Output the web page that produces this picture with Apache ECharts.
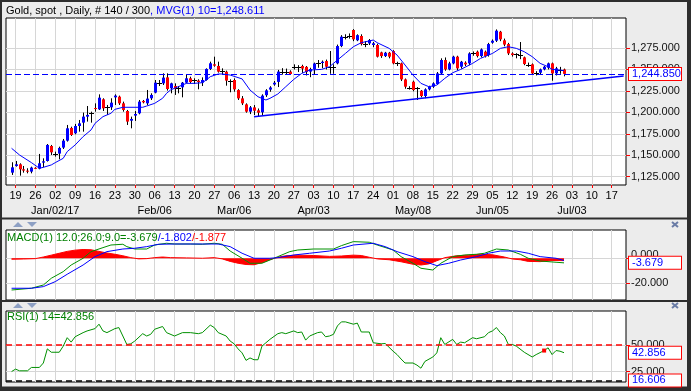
<!DOCTYPE html>
<html><head><meta charset="utf-8">
<script src="https://cdn.jsdelivr.net/npm/echarts@6/dist/echarts.min.js"></script>
<style>html,body{margin:0;padding:0;background:#ececec}#c{width:691px;height:391px}</style>
</head><body><div id="c"></div>
<script>
// ---------- data ----------
const axisStart = '2016-12-15';
const axisEnd = '2017-07-20';
const firstBarDate = '2016-12-16';
const opens = [1129.7,1137.5,1139.4,1133.6,1132.0,1130.9,1135.3,1134.4,1141.4,1143.3,1160.8,1151.2,1151.9,1158.9,1167.0,1181.8,1175.6,1184.1,1188.0,1195.0,1199.0,1205.0,1203.5,1215.2,1205.7,1205.9,1217.5,1218.3,1210.5,1201.6,1190.3,1196.2,1198.9,1213.3,1210.5,1216.4,1223.0,1234.5,1233.8,1240.8,1228.0,1230.7,1227.9,1229.2,1234.6,1239.7,1237.3,1237.0,1234.6,1237.7,1250.6,1256.0,1254.1,1248.2,1247.4,1236.9,1237.7,1226.0,1216.3,1209.3,1200.8,1205.8,1202.3,1200.0,1220.0,1226.5,1232.5,1235.5,1247.0,1247.0,1247.5,1253.0,1253.0,1254.0,1253.0,1247.5,1250.5,1257.0,1257.5,1259.8,1253.0,1253.0,1257.1,1277.3,1288.0,1289.0,1296.0,1284.0,1289.0,1280.0,1280.4,1278.5,1278.5,1269.9,1265.6,1269.5,1271.5,1257.0,1257.1,1238.4,1228.5,1235.7,1228.0,1225.2,1219.0,1226.8,1229.9,1233.0,1245.4,1261.0,1250.0,1257.1,1264.9,1253.2,1257.9,1257.1,1269.5,1270.7,1265.6,1270.7,1266.8,1281.2,1283.5,1294.0,1284.0,1279.6,1268.7,1268.0,1267.0,1264.1,1255.0,1256.0,1246.0,1246.2,1250.1,1252.0,1257.1,1245.4,1249.3,1250.0];
const highs = [1141.8,1143.3,1140.6,1137.5,1134.8,1136.7,1136.0,1151.5,1146.4,1163.1,1162.0,1154.2,1160.0,1169.0,1185.3,1183.3,1186.5,1191.1,1199.7,1207.4,1200.8,1210.5,1221.0,1216.4,1208.6,1216.4,1221.0,1219.5,1212.5,1202.8,1195.0,1201.6,1214.4,1214.4,1226.1,1222.2,1237.7,1237.7,1245.5,1245.5,1234.6,1233.8,1230.7,1235.4,1244.7,1241.6,1239.7,1238.5,1240.8,1251.3,1259.1,1264.9,1259.1,1251.3,1248.6,1238.5,1239.6,1227.0,1219.0,1210.5,1207.4,1208.5,1204.5,1221.0,1227.0,1230.5,1236.5,1249.5,1251.5,1251.0,1249.0,1256.0,1255.0,1255.5,1254.0,1252.0,1258.0,1261.0,1260.5,1261.5,1271.5,1256.0,1279.0,1290.0,1291.0,1292.0,1297.0,1291.0,1291.0,1283.0,1285.5,1282.0,1280.0,1270.7,1270.5,1270.5,1272.5,1259.0,1258.0,1239.5,1230.5,1237.0,1229.5,1226.0,1228.0,1231.0,1235.0,1247.0,1263.0,1264.0,1259.0,1266.0,1266.0,1260.0,1259.5,1270.0,1271.0,1272.0,1274.5,1272.0,1281.0,1285.0,1296.7,1295.0,1286.0,1281.0,1270.0,1269.0,1282.0,1265.0,1258.0,1257.0,1248.0,1251.0,1254.0,1258.0,1258.0,1253.0,1253.0,1251.0];
const lows = [1127.0,1136.7,1126.2,1129.7,1128.9,1128.9,1134.0,1133.6,1135.9,1142.6,1150.3,1148.4,1145.3,1157.3,1165.9,1172.5,1174.4,1177.5,1177.5,1189.2,1188.0,1200.8,1202.8,1201.6,1196.9,1202.8,1208.6,1208.6,1200.8,1185.3,1181.4,1190.0,1197.7,1210.5,1208.6,1214.4,1222.2,1230.7,1231.9,1225.3,1222.2,1220.3,1222.2,1217.5,1233.8,1233.8,1233.1,1226.9,1230.7,1237.0,1249.4,1253.2,1246.3,1244.7,1231.1,1223.4,1224.1,1214.4,1208.5,1199.6,1198.0,1196.9,1195.0,1196.5,1218.0,1224.0,1231.0,1229.5,1244.0,1244.0,1244.0,1250.0,1247.0,1246.0,1243.0,1241.0,1244.0,1252.0,1251.5,1250.0,1245.0,1245.0,1256.0,1276.0,1285.0,1286.0,1283.0,1283.0,1278.0,1276.0,1278.5,1276.0,1264.0,1263.5,1264.5,1263.0,1256.0,1254.0,1236.5,1227.5,1226.5,1224.5,1214.4,1217.5,1216.5,1225.5,1228.5,1232.0,1244.0,1248.5,1249.0,1256.0,1249.0,1251.0,1254.0,1255.0,1266.0,1264.0,1264.0,1264.0,1265.0,1280.0,1282.0,1283.0,1277.0,1266.8,1265.0,1263.0,1262.0,1255.0,1253.0,1244.0,1243.0,1244.0,1249.0,1250.0,1236.9,1243.0,1245.0,1242.0];
const closes = [1135.9,1139.4,1133.6,1132.1,1131.5,1135.6,1135.0,1140.6,1142.9,1162.0,1153.4,1151.2,1158.5,1167.0,1181.4,1173.6,1184.1,1187.2,1195.0,1197.0,1199.0,1204.3,1217.1,1204.7,1205.7,1211.3,1219.5,1210.5,1202.8,1189.2,1192.3,1198.1,1212.5,1211.7,1216.0,1220.3,1234.6,1234.5,1240.5,1227.2,1233.8,1227.6,1227.9,1234.6,1239.7,1235.4,1237.3,1235.4,1237.7,1250.6,1257.2,1254.4,1247.4,1248.2,1237.0,1236.9,1226.8,1216.3,1210.5,1200.8,1205.8,1201.9,1199.6,1219.5,1225.6,1229.0,1234.5,1247.5,1247.0,1247.0,1244.7,1253.0,1253.0,1251.0,1247.0,1250.5,1257.0,1257.0,1259.0,1253.2,1253.0,1253.0,1277.3,1288.2,1288.0,1289.0,1285.1,1290.0,1279.6,1280.0,1284.3,1280.5,1264.9,1265.6,1269.5,1264.9,1257.1,1257.0,1238.4,1229.9,1228.5,1226.0,1228.0,1219.0,1226.8,1229.9,1233.8,1245.4,1261.0,1250.0,1257.1,1264.9,1251.3,1259.0,1255.9,1268.7,1269.5,1265.6,1273.4,1265.6,1279.6,1283.5,1295.2,1285.1,1279.0,1268.7,1266.8,1268.0,1267.0,1256.3,1255.0,1245.4,1246.0,1250.1,1253.2,1257.1,1245.4,1251.3,1249.3,1244.85];
// [bar number, value] readings of the indicator lines
const maPoints = [[0,1158.1],[2,1150.3],[5,1141.4],[7,1134.8],[8,1135.9],[10,1138.7],[11,1141.4],[13,1146.4],[14,1154.2],[16,1162.0],[18,1171.7],[20,1179.5],[21,1187.2],[23,1195.0],[25,1198.9],[26,1203.5],[28,1205.9],[33,1205.9],[34,1207.4],[36,1210.5],[38,1216.4],[39,1222.2],[40,1226.1],[42,1230.0],[44,1233.8],[46,1233.8],[48,1234.6],[49,1237.7],[50,1241.6],[52,1244.7],[53,1244.7],[55,1243.5],[58,1239.0],[60,1226.0],[62,1218.2],[64,1214.4],[65,1216.3],[67,1221.4],[69,1229.9],[71,1238.4],[73,1245.4],[75,1249.3],[78,1250.1],[80,1253.2],[82,1261.0],[84,1268.7],[86,1276.5],[88,1281.2],[91,1284.3],[92,1281.2],[95,1274.6],[97,1266.8],[99,1255.2],[101,1243.5],[103,1233.8],[105,1229.9],[107,1231.8],[109,1239.6],[111,1246.2],[113,1250.0],[116,1257.1],[118,1262.9],[121,1268.7],[123,1274.6],[125,1276.5],[127,1274.6],[129,1270.7],[131,1264.9],[133,1257.1],[135,1253.2],[136,1250.1],[138,1249.3],[139,1248.611]];
const macdPoints = [[0,-25.4],[5,-24.0],[8,-21.4],[10,-16.0],[13,-10.7],[15,-5.4],[18,0],[20,5.3],[23,8.5],[25,10.6],[28,11.2],[29,9.3],[31,7.4],[34,7.4],[36,10.6],[39,12.0],[41,11.4],[45,11.4],[48,11.2],[51,12.0],[53,11.2],[55,5.8],[58,0],[60,-4.0],[63,-4.0],[65,-1.4],[67,1.3],[70,5.3],[72,6.6],[76,7.4],[81,7.4],[83,10.1],[86,13.3],[90,12.8],[92,10.6],[96,6.6],[98,1.3],[101,-4.0],[103,-8.0],[106,-9.4],[108,-4.0],[111,1.3],[114,2.6],[117,3.2],[119,4.0],[122,7.4],[125,6.6],[128,3.2],[130,0],[133,-2.2],[137,-3.2],[139,-3.679]];
const signalPoints = [[0,-24.0],[5,-24.0],[8,-22.7],[11,-18.7],[14,-12.8],[18,-5.4],[21,1.3],[24,5.3],[28,7.4],[31,8.0],[34,9.3],[37,11.2],[41,11.4],[48,11.4],[52,11.4],[55,9.3],[58,4.0],[61,0],[65,0],[67,0.5],[71,2.6],[75,4.0],[80,5.8],[83,8.0],[86,10.6],[91,12.0],[94,9.3],[97,5.3],[101,1.3],[104,-2.7],[107,-5.9],[110,-4.0],[113,-1.4],[117,1.3],[120,4.0],[123,5.8],[127,5.8],[130,4.0],[133,1.3],[137,0],[139,-1.802]];
const histPoints = [[0,-0.8],[3,-0.6],[6,-0.3],[8,1.0],[10,2.5],[12,4.0],[14,5.5],[16,6.5],[18,7.0],[20,6.8],[22,5.5],[24,4.2],[26,3.2],[28,2.0],[30,0.5],[32,-0.5],[34,-0.3],[36,0.5],[38,1.0],[40,0.5],[44,0.3],[48,0.0],[51,0.5],[53,-0.5],[55,-2.5],[57,-4.0],[59,-5.0],[61,-5.2],[63,-3.5],[65,-1.2],[67,0.8],[69,2.0],[72,2.5],[76,2.2],[80,1.5],[83,1.8],[86,2.5],[88,2.2],[90,0.8],[92,-0.5],[95,-1.2],[98,-2.8],[101,-4.8],[103,-5.4],[105,-4.5],[107,-2.0],[109,0.5],[112,2.0],[115,2.5],[118,3.2],[121,2.8],[124,1.0],[126,-0.6],[128,-1.2],[130,-2.5],[133,-2.7],[136,-1.8],[139,-1.877]];
const rsiPoints = [[0,25.0],[1,27.3],[2,25.7],[4,25.7],[5,28.9],[7,28.9],[8,33.1],[9,46.5],[10,43.3],[12,43.3],[13,49.1],[14,57.1],[15,52.9],[16,58.0],[18,61.9],[19,63.5],[21,65.7],[22,69.9],[23,63.5],[24,61.9],[26,65.7],[27,66.7],[28,58.7],[29,50.7],[30,51.3],[31,53.9],[33,60.9],[34,58.7],[35,60.3],[36,65.1],[38,67.7],[39,61.9],[41,58.7],[43,61.9],[45,61.9],[47,60.9],[48,61.9],[50,69.0],[51,66.7],[52,61.9],[54,58.7],[55,53.9],[56,51.3],[57,46.5],[58,42.7],[59,35.6],[60,37.9],[61,36.2],[62,36.2],[63,49.1],[64,52.3],[65,55.5],[67,60.9],[68,61.9],[69,60.9],[71,63.5],[72,61.9],[73,62.5],[74,54.8],[75,58.7],[77,61.9],[78,62.5],[79,58.0],[80,58.7],[81,60.3],[82,68.3],[83,72.1],[84,72.1],[86,69.9],[87,70.9],[88,62.5],[90,62.5],[91,52.3],[93,51.3],[94,51.6],[96,44.3],[97,41.1],[98,36.9],[99,33.1],[101,33.1],[102,31.1],[103,28.2],[104,34.6],[106,38.8],[107,42.7],[108,57.1],[109,50.7],[111,55.5],[112,50.7],[113,52.9],[114,52.3],[116,57.1],[117,56.1],[119,58.0],[120,61.9],[121,63.5],[122,66.7],[123,61.9],[124,58.7],[125,50.7],[126,50.7],[127,49.1],[129,43.3],[131,38.8],[132,41.1],[134,44.9],[135,47.5],[136,41.1],[137,44.9],[138,44.3],[139,42.856]];
const rsiMarker = [134, 44.9];
const trendStart = ['2017-03-13', 1195.0];
const trendEnd = ['2017-07-20', 1242.4];
const lastClose = 1244.85;
const maLast = '1,248.611';
const macdLast = -3.679, signalLast = -1.802, histLast = -1.877;
const rsiLast = 42.856, rsiFloor = 16.606, rsiMid = 50;
const priceTicks = [1125,1150,1175,1200,1225,1250,1275];
const macdTicks = [-20, 0];
const rsiTicks = [25, 50];
const monthLabels = {'2017-01-02':'Jan/02/17','2017-02-06':'Feb/06','2017-03-06':'Mar/06','2017-04-03':'Apr/03','2017-05-08':'May/08','2017-06-05':'Jun/05','2017-07-03':'Jul/03'};

// ---------- helpers ----------
function weekdays(a,b){const out=[];const d=new Date(a+'T00:00:00Z');const e=new Date(b+'T00:00:00Z');while(d<=e){const w=d.getUTCDay();if(w>0&&w<6)out.push(d.toISOString().slice(0,10));d.setUTCDate(d.getUTCDate()+1);}return out;}
const categories = weekdays(axisStart, axisEnd);
const off = categories.indexOf(firstBarDate);
const mondays = categories.map((c,i)=>[c,i]).filter(([c])=>new Date(c+'T00:00:00Z').getUTCDay()===1).map(([,i])=>i);
function fmt(v){const s=Math.abs(v).toFixed(3);const [ip,dp]=s.split('.');return (v<0?'-':'')+ip.replace(/\B(?=(\d{3})+(?!\d))/g,',')+'.'+dp;}
const shift = pts => pts.map(([d,v])=>[d+off,v]);
const candles = opens.map((o,i)=>[i+off,o,closes[i],lows[i],highs[i]]);
const FONT = '"Liberation Sans", Arial, sans-serif';
const TXT = {fontSize:11, fontFamily:FONT, fontWeight:'normal'};

const xMin = -0.4, xMax = categories.length - 0.4;
function xAxisFor(g, labels){
  return {type:'value', gridIndex:g, min:xMin, max:xMax, position:'bottom',
    axisLine:{show:false, onZero:false},
    axisTick:{show:labels, customValues:mondays, length:3, lineStyle:{color:'#ff0000'}},
    axisLabel:{show:labels, customValues:mondays, margin:3, color:'#000', fontFamily:FONT,
      formatter:v=>{const c=categories[Math.round(v)];if(!c)return '';const day=c.slice(8,10);return monthLabels[c]?`{d|${day}}\n{m|${monthLabels[c]}}`:`{d|${day}}`;},
      rich:{d:Object.assign({lineHeight:15,color:'#000'},TXT),m:Object.assign({lineHeight:15,color:'#000'},TXT)}},
    splitLine:{show:true, lineStyle:{color:'#d6d6d6',width:1}}};
}
function yAxisFor(g,min,max,ticks,lift){
  return {type:'value', gridIndex:g, position:'right', min, max,
    axisLine:{show:false, onZero:false},
    axisTick:{show:true, customValues:ticks, length:4, lineStyle:{color:'#ff0000'}},
    axisLabel:{customValues:ticks, margin:5, fontSize:11, fontFamily:FONT, color:'#111',
      formatter:v=>(lift!==undefined && v===lift)?`{u|${fmt(v)}}`:fmt(v),
      rich:{u:Object.assign({color:'#111',padding:[0,0,7,0]},TXT)}},
    splitLine:{show:true, lineStyle:{color:'#d6d6d6',width:1}}};
}
function boxAxisFor(g,min,max,vals){
  return {type:'value', gridIndex:g, position:'right', min, max,
    axisLine:{show:false, onZero:false}, axisTick:{show:false}, splitLine:{show:false},
    axisLabel:{customValues:vals, margin:3, fontSize:11, fontFamily:FONT, color:'#0000ff',
      backgroundColor:'#fff', borderColor:'#ff0000', borderWidth:1, padding:[1,3,0,3], width:46, lineHeight:11,
      formatter:v=>fmt(v)}};
}
const PMIN=1115.3, PMAX=1310, MMIN=-33.4, MMAX=22.6, RMIN=15.1, RMAX=82.4;
const DARK='#2e2e2e', ICON='#8da0c4', XCOL='#6a7ca6';
function tri(x,y,up){return {type:'polygon', shape:{points: up?[[x,y+5],[x+10,y+5],[x+5,y]]:[[x,y],[x+10,y],[x+5,y+5]]}, style:{fill:ICON}};}
function cross(x,y){return [{type:'line',shape:{x1:x,y1:y,x2:x+6,y2:y+5},style:{stroke:XCOL,lineWidth:2}},{type:'line',shape:{x1:x,y1:y+5,x2:x+6,y2:y},style:{stroke:XCOL,lineWidth:2}}];}

const option = {
  animation:false,
  backgroundColor:'#ececec',
  title:[
    {left:6, top:5, padding:0, text:`{a|Gold, spot , Daily, # 140 / 300}{b|, MVG(1) 10=${maLast}}`,
     textStyle:Object.assign({rich:{a:Object.assign({color:'#000'},TXT),b:Object.assign({color:'#0000ff'},TXT)}},TXT)},
    {left:7, top:232, padding:0, text:`{g|MACD(1) 12.0;26.0;9.0=${macdLast}}{b|/${signalLast}}{r|/${histLast}}`,
     textStyle:Object.assign({rich:{g:Object.assign({color:'#008000'},TXT),b:Object.assign({color:'#0000ff'},TXT),r:Object.assign({color:'#ff0000'},TXT)}},TXT)},
    {left:7, top:311.5, padding:0, text:`RSI(1) 14=${rsiLast}`, textStyle:Object.assign({color:'#008000'},TXT)}
  ],
  grid:[
    {left:6, top:18, width:620, height:167, show:true, backgroundColor:'#fff', borderColor:'#000', borderWidth:1},
    {left:6, top:230, width:620, height:70, show:true, backgroundColor:'#fff', borderColor:'#000', borderWidth:1},
    {left:6, top:311, width:620, height:71, show:true, backgroundColor:'#fff', borderColor:'#000', borderWidth:1}
  ],
  xAxis:[xAxisFor(0,true), xAxisFor(1,false), xAxisFor(2,false)],
  yAxis:[
    yAxisFor(0,PMIN,PMAX,priceTicks), boxAxisFor(0,PMIN,PMAX,[lastClose]),
    yAxisFor(1,MMIN,MMAX,macdTicks,0), boxAxisFor(1,MMIN,MMAX,[macdLast]),
    yAxisFor(2,RMIN,RMAX,rsiTicks), boxAxisFor(2,RMIN,RMAX,[rsiLast, rsiFloor])
  ],
  graphic:[
    {type:'rect', shape:{x:0,y:0,width:691,height:2}, style:{fill:DARK}},
    {type:'rect', shape:{x:0,y:0,width:2,height:391}, style:{fill:DARK}},
    {type:'rect', shape:{x:687,y:0,width:4,height:391}, style:{fill:DARK}},
    {type:'rect', shape:{x:0,y:217.5,width:691,height:2}, style:{fill:DARK}},
    {type:'rect', shape:{x:0,y:300,width:691,height:2}, style:{fill:DARK}},
    {type:'rect', shape:{x:0,y:386.5,width:691,height:5}, style:{fill:DARK}},
    tri(13,222,true), tri(27,222,false), tri(13,303,true), tri(27,303,false),
    ...cross(672,222), ...cross(672,303)
  ],
  series:[
    {type:'custom', xAxisIndex:0, yAxisIndex:0, data:candles, encode:{x:0,y:[1,2,3,4]}, z:2,
     renderItem:(params,api)=>{
       const x=api.value(0),o=api.value(1),c=api.value(2),l=api.value(3),h=api.value(4);
       const pO=api.coord([x,o]),pC=api.coord([x,c]),pL=api.coord([x,l]),pH=api.coord([x,h]);
       const cx=Math.round(pO[0])+0.5;
       const ch=[{type:'line',shape:{x1:cx,y1:pH[1],x2:cx,y2:pL[1]},style:{stroke:'#000',lineWidth:1}}];
       if(o===c){const yy=Math.round(pO[1])+0.5;ch.push({type:'line',shape:{x1:cx-2.5,y1:yy,x2:cx+2.5,y2:yy},style:{stroke:'#000',lineWidth:1}});}
       else{const t=Math.min(pO[1],pC[1]),b=Math.max(pO[1],pC[1]);ch.push({type:'rect',shape:{x:cx-1.5,y:t,width:3,height:Math.max(1,b-t)},style:{fill:c>o?'#0000ff':'#ff0000'}});}
       return {type:'group',children:ch};
     }},
    {type:'line', xAxisIndex:0, yAxisIndex:0, data:shift(maPoints), symbol:'none', z:3,
     lineStyle:{color:'#0000ff',width:1},
     markLine:{silent:true, symbol:['none','none'], label:{show:false}, animation:false,
       data:[
         {yAxis:lastClose, lineStyle:{color:'#0000ff',width:1,type:[6,3]}},
         [{coord:[categories.indexOf(trendStart[0]),trendStart[1]], lineStyle:{color:'#0000ff',width:1.5,type:'solid'}},{coord:[categories.indexOf(trendEnd[0]),trendEnd[1]]}]
       ]}},
    {type:'line', xAxisIndex:1, yAxisIndex:2, data:shift(histPoints), symbol:'none', z:2,
     lineStyle:{color:'#ff0000',width:1}, areaStyle:{color:'#ff0000',opacity:1, origin:0}},
    {type:'line', xAxisIndex:1, yAxisIndex:2, data:shift(macdPoints), symbol:'none', z:3, lineStyle:{color:'#009000',width:1}},
    {type:'line', xAxisIndex:1, yAxisIndex:2, data:shift(signalPoints), symbol:'none', z:3, lineStyle:{color:'#0000ff',width:1}},
    {type:'line', xAxisIndex:2, yAxisIndex:4, data:shift(rsiPoints), symbol:'none', z:3, lineStyle:{color:'#009000',width:1},
     markLine:{silent:true, symbol:['none','none'], label:{show:false}, animation:false,
       data:[{yAxis:rsiMid, lineStyle:{color:'#ff0000',width:1.5,type:[6,4]}},{yAxis:rsiFloor, lineStyle:{color:'#000',width:1.5,type:[6,4]}}]},
     markPoint:{symbol:'rect', symbolSize:4, itemStyle:{color:'#ff0000'}, label:{show:false},
       data:[{coord:[rsiMarker[0]+off, rsiMarker[1]]}]}}
  ]
};
const chart = echarts.init(document.getElementById('c'), null, {renderer:'canvas'});
chart.setOption(option);
</script></body></html>
